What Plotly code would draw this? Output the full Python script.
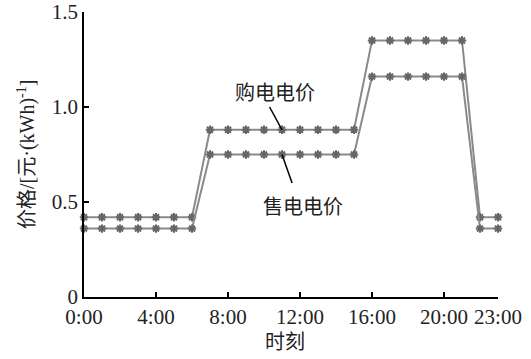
import plotly.graph_objects as go

hours = list(range(24))
tick_vals = [0, 4, 8, 12, 16, 20, 23]
tick_text = ["0:00", "4:00", "8:00", "12:00", "16:00", "20:00", "23:00"]
buy_price = [0.42]*7 + [0.88]*9 + [1.35]*6 + [0.42]*2
sell_price = [0.36]*7 + [0.75]*9 + [1.16]*6 + [0.36]*2

FONT = "Liberation Serif, Noto Sans CJK SC"
line_col = "#8a8a8a"
mk_col = "#666666"

fig = go.Figure()
for ys, name in [(buy_price, "购电电价"), (sell_price, "售电电价")]:
    fig.add_trace(go.Scatter(
        x=hours, y=ys, mode="lines+markers", name=name,
        line=dict(color=line_col, width=2),
        marker=dict(symbol="asterisk-open", size=7, color=mk_col,
                    line=dict(color=mk_col, width=2)),
        cliponaxis=False, showlegend=False))

# annotation leader lines
fig.add_shape(type="line", x0=11, y0=buy_price[11], x1=10.31, y1=1.0,
              line=dict(color="black", width=1.5))
fig.add_shape(type="line", x0=11, y0=sell_price[11], x1=11.56, y1=0.6,
              line=dict(color="black", width=1.5))
fig.add_annotation(x=10.63, y=1.08, text="购电电价", showarrow=False,
                   font=dict(size=20, family="Noto Sans CJK SC", color="#222"))
fig.add_annotation(x=12.18, y=0.484, text="售电电价", showarrow=False,
                   font=dict(size=20, family="Noto Sans CJK SC", color="#222"))

# axis titles
fig.add_annotation(xref="paper", yref="paper", x=0.486, y=-0.151,
                   xanchor="center", yanchor="middle", showarrow=False,
                   text="时刻", font=dict(size=20, family="Noto Sans CJK SC", color="#222"))
fig.add_annotation(xref="paper", yref="paper", x=-0.139, y=0.5,
                   xanchor="center", yanchor="middle", showarrow=False, textangle=-90,
                   text="价格/[元·(kWh)<sup>-1</sup>]",
                   font=dict(size=20, family=FONT, color="#222"))

fig.update_layout(
    width=531, height=359,
    margin=dict(l=84, r=33, t=12, b=62),
    paper_bgcolor="white", plot_bgcolor="white",
    font=dict(family=FONT, size=21, color="#222"),
)
fig.update_xaxes(
    range=[0, 23], tickvals=tick_vals, ticktext=tick_text, automargin=False,
    ticklabeloverflow="allow",
    showgrid=False, zeroline=False, showline=True, linecolor="black", linewidth=1.5,
    ticks="inside", ticklen=5, tickcolor="black", tickwidth=1.5,
    tickfont=dict(size=21),
)
fig.update_yaxes(
    range=[0, 1.5], tickvals=[0, 0.5, 1.0, 1.5], ticktext=["0", "0.5", "1.0", "1.5"],
    automargin=False, ticklabeloverflow="allow",
    showgrid=False, zeroline=False, showline=True, linecolor="black", linewidth=1.5,
    ticks="inside", ticklen=5, tickcolor="black", tickwidth=1.5,
    tickfont=dict(size=21),
)
fig.write_html("out.html", config={"displayModeBar": False},
               post_script="document.body.style.margin='0px';")
